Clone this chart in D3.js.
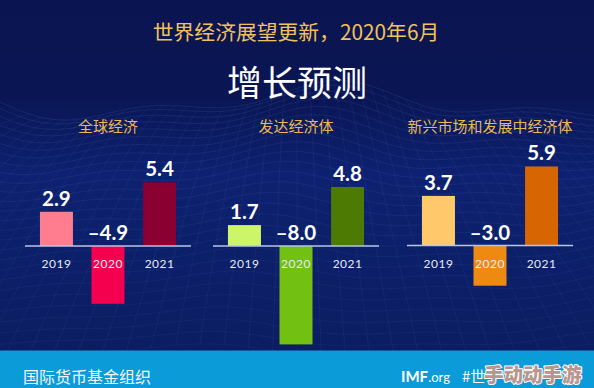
<!DOCTYPE html>
<html>
<head>
<meta charset="utf-8">
<script src="https://cdn.jsdelivr.net/npm/d3@7/dist/d3.min.js"></script>
<style>
  html,body{margin:0;padding:0;background:#0a1552;}
  svg{display:block;}
</style>
</head>
<body>
<svg id="chart" width="594" height="388"></svg>
<script>
// ---- data ----
const years = ["2019", "2020", "2021"];
const groups = ["全球经济", "发达经济体", "新兴市场和发展中经济体"];
const worldValues = [2.9, -4.9, 5.4];
const advancedValues = [1.7, -8.0, 4.8];
const emergingValues = [3.7, -3.0, 5.9];
const valueLabels = [["2.9", "–4.9", "5.4"], ["1.7", "–8.0", "4.8"], ["3.7", "–3.0", "5.9"]];
const subtitle = "世界经济展望更新，2020年6月";
const title = "增长预测";
const footerLeft = "国际货币基金组织";

// ---- styling / layout ----
const W = 594, H = 388;
const palettes = [
  ["#ff7d8e", "#f5004e", "#8a0031"],
  ["#cdf56b", "#72c012", "#4c7a02"],
  ["#ffc96b", "#ee8a12", "#d66502"]
];
const panels = [
  { x: 25, w: 166, base: 246, ppu: 11.8, values: worldValues },
  { x: 213, w: 166, base: 246, ppu: 12.3, values: advancedValues },
  { x: 407, w: 166, base: 245.5, ppu: 13.4, values: emergingValues }
];
const cjk = "'Noto Sans CJK SC','Noto Sans',sans-serif";
const latin = "Lato,'Noto Sans','Open Sans',sans-serif";

const svg = d3.select("#chart");
const defs = svg.append("defs");

// background
const bg = defs.append("linearGradient").attr("id", "bg").attr("x1", 0).attr("y1", 0).attr("x2", 0).attr("y2", 1);
bg.append("stop").attr("offset", "0%").attr("stop-color", "#0a1450");
bg.append("stop").attr("offset", "25%").attr("stop-color", "#0a1654");
bg.append("stop").attr("offset", "45%").attr("stop-color", "#0d2170");
bg.append("stop").attr("offset", "100%").attr("stop-color", "#0b1c5e");
svg.append("rect").attr("width", W).attr("height", H).attr("fill", "url(#bg)");

// decorative wave mesh
const mesh = svg.append("g").attr("fill", "none").attr("stroke", "#5a86e0").attr("stroke-width", 0.6);
const wave = (x, t) => 14 * Math.sin(x / 70 + t * 2.1) * (1 - t * 0.55) + 8 * Math.sin(x / 31 + t * 4) * (1 - t * 0.7);
const rows = 26, cols = 44;
const rowY = t => 102 + Math.pow(t, 1.25) * 250;
const line = d3.line().curve(d3.curveBasis);
for (let r = 0; r <= rows; r++) {
  const t = r / rows;
  const pts = d3.range(0, W + 10, 10).map(x => [x, rowY(t) + wave(x, t)]);
  mesh.append("path").attr("d", line(pts)).attr("stroke-opacity", 0.12 + 0.12 * (1 - t));
}
for (let c = 0; c <= cols; c++) {
  const u = c / cols;
  const pts = d3.range(0, rows + 1).map(r => {
    const t = r / rows;
    const x = W / 2 + (u - 0.5) * W * (0.9 + t * 0.9);
    return [x, rowY(t) + wave(x, t)];
  });
  mesh.append("path").attr("d", line(pts)).attr("stroke-opacity", 0.15);
}

// header
svg.append("text").attr("x", 296).attr("y", 40).attr("text-anchor", "middle")
  .attr("font-family", cjk).attr("font-size", 20.8).attr("fill", "#f2c25a").text(subtitle);
svg.append("text").attr("x", 297).attr("y", 96).attr("text-anchor", "middle")
  .attr("font-family", cjk).attr("font-size", 35).attr("fill", "#ffffff").text(title);

// panels
panels.forEach((p, i) => {
  const g = svg.append("g");
  const x = d3.scaleBand().domain(years).range([p.x, p.x + p.w]).paddingInner(0.36).paddingOuter(0.29);
  const y = d3.scaleLinear().domain([-8, 6]).range([p.base + 8 * p.ppu, p.base - 6 * p.ppu]);

  g.append("text").attr("x", p.x + p.w / 2).attr("y", 131.5).attr("text-anchor", "middle")
    .attr("font-family", cjk).attr("font-size", 15).attr("fill", "#eab952").text(groups[i]);

  g.selectAll("rect.bar").data(p.values).join("rect").attr("class", "bar")
    .attr("x", (d, j) => x(years[j]))
    .attr("width", x.bandwidth())
    .attr("y", d => Math.min(y(d), y(0)))
    .attr("height", d => Math.abs(y(d) - y(0)))
    .attr("fill", (d, j) => palettes[i][j]);

  // zero line
  g.append("line").attr("x1", p.x).attr("x2", p.x + p.w).attr("y1", y(0)).attr("y2", y(0))
    .attr("stroke", "#b9c6e6").attr("stroke-width", 1.6);

  // value labels
  g.selectAll("text.val").data(p.values).join("text").attr("class", "val")
    .attr("x", (d, j) => x(years[j]) + x.bandwidth() / 2)
    .attr("y", d => (d >= 0 ? y(d) : y(0)) - 6)
    .attr("text-anchor", "middle").attr("font-family", latin).attr("font-weight", 700)
    .attr("font-size", 20.5).attr("fill", "#ffffff")
    .text((d, j) => valueLabels[i][j]);

  // year labels
  g.selectAll("text.yr").data(years).join("text").attr("class", "yr")
    .attr("x", d => x(d) + x.bandwidth() / 2)
    .attr("y", y(0) + 22)
    .attr("text-anchor", "middle").attr("font-family", latin)
    .attr("font-size", 12).attr("letter-spacing", 0.5).attr("fill", "#e6ebf6").text(d => d);
});

// footer
svg.append("rect").attr("x", 0).attr("y", 350.5).attr("width", W).attr("height", H - 350.5).attr("fill", "#0b9bd9");
svg.append("text").attr("x", 23).attr("y", 382.5).attr("font-family", cjk).attr("font-size", 16)
  .attr("fill", "#f2f8fc").text(footerLeft);
const imf = svg.append("text").attr("x", 401).attr("y", 382).attr("font-family", latin).attr("fill", "#ffffff");
imf.append("tspan").attr("font-weight", 700).attr("font-size", 15).text("IMF");
imf.append("tspan").attr("font-size", 13).text(".org");
svg.append("text").attr("x", 462).attr("y", 382).attr("font-family", cjk).attr("font-size", 15)
  .attr("fill", "#ffffff").text("#世");
// watermark
svg.append("text").attr("x", 484).attr("y", 382).attr("font-family", cjk).attr("font-weight", 900)
  .attr("font-size", 19.5).attr("fill", "#5a4a50").attr("opacity", 0.6).attr("transform", "translate(1,1)")
  .text("手动动手游");
svg.append("text").attr("x", 484).attr("y", 382).attr("font-family", cjk).attr("font-weight", 900)
  .attr("font-size", 19.5).attr("fill", "#b8958e").attr("stroke", "#ffffff").attr("stroke-width", 2)
  .attr("paint-order", "stroke").attr("stroke-linejoin", "round").text("手动动手游");
</script>
</body>
</html>
